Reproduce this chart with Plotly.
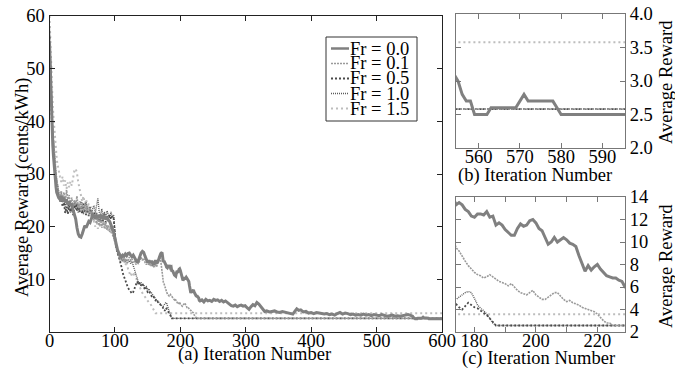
import plotly.graph_objects as go

# ---------------- data (iteration, average reward) ----------------
fr00 = [(0,55),(1,50),(2,45),(3,41),(4,38),(5,35.5),(6,33.5),(7,31.5),(8,30),(9,28.5),(10,27.5),(11,26.5),(12,26),
        (14,25.5),(16,25.2),(18,25.8),(20,24.8),(22,25.5),(24,24.6),(26,25.2),(28,24.2),(30,24.8),(32,24.0),(34,24.4),
        (36,23.2),(38,22.5),(40,21.5),(42,19.8),(44,18.6),(46,18.1),(48,18.0),(50,18.6),(52,19.5),(54,20.2),(56,19.8),
        (58,20.6),(60,21.0),(62,20.8),(64,21.6),(66,22.2),(68,22.0),(70,21.6),(72,22.1),(74,21.8),(76,22.2),(78,21.7),
        (80,22.0),(82,21.6),(84,21.9),(86,21.4),(88,21.8),(90,21.2),(92,21.0),(94,20.4),(96,19.8),(98,19.0),(100,17.8),
        (102,16.5),(104,15.6),(106,15.0),(108,14.6),(110,14.2),(112,14.6),(114,14.4),(116,14.8),(118,14.5),(120,14.9),
        (122,15.0),(124,14.6),(126,14.3),(128,14.6),(130,14.2),(132,13.6),(134,13.2),(136,13.6),(138,14.4),(140,15.0),
        (142,15.3),(144,15.1),(146,14.4),(148,13.8),(150,13.2),(152,13.6),(154,13.1),(156,13.5),(158,12.9),(160,13.0),
        (162,13.6),(164,13.0),(166,13.4),(168,14.2),(170,14.9),(172,15.1),(173,14.0),
        (174,13.3),(175,13.5),(176,13.3),(177,12.9),(178,12.7),(179,12.3),(180,12.2),(181,12.5),(182,12.5),(183,12.4),
        (184,12.7),(185,12.2),(186,12.3),(187,11.5),(188,11.7),(189,11.5),(190,11.1),(191,10.8),(192,10.6),(193,10.6),
        (194,11.2),(195,11.6),(196,11.4),(197,11.5),(198,11.9),(199,12.0),(200,11.7),(201,11.2),(202,11.0),(203,10.4),
        (204,9.8),(205,10.0),(206,10.4),(207,10.0),(208,10.2),(209,10.4),(210,10.2),(211,9.9),(212,9.8),(213,9.6),
        (214,8.8),(215,8.0),(216,7.4),(217,7.9),(218,7.5),(219,7.8),(220,8.0),(221,7.6),(222,7.3),(223,7.0),(224,6.9),
        (225,6.8),(226,6.8),(227,6.6),(228,6.5),(229,6.0),
        (230,5.9),(233,6.1),(236,5.7),(239,6.2),(242,5.9),(245,6.0),(248,5.8),(251,6.2),(254,6.0),(257,6.1),(260,5.8),
        (263,6.0),(266,5.7),(269,5.9),(272,5.5),(275,5.3),(278,5.0),(281,4.9),(284,5.1),(287,4.8),(290,5.0),(293,5.1),
        (296,4.9),(299,5.0),(302,4.6),(305,4.3),(308,4.8),(311,5.2),(314,5.0),(317,5.6),(320,5.3),(323,4.8),(326,4.3),
        (329,3.9),(332,4.0),(336,3.8),(340,3.9),(344,4.0),(348,3.8),(352,3.7),(356,3.9),(360,3.8),(364,3.7),(368,3.5),
        (372,3.4),(375,3.9),(378,4.4),(381,4.1),(384,4.2),(388,3.8),(392,3.9),(396,3.6),(400,3.7),(404,3.5),(408,3.7),
        (412,3.6),(416,3.5),(420,3.4),(424,3.5),(428,3.3),(432,3.4),(436,3.2),(440,3.5),(444,3.7),(448,3.4),(452,3.6),
        (456,3.5),(460,3.3),(464,3.4),(468,3.2),(472,3.3),(476,3.2),(480,3.4),(484,3.2),(488,3.3),(492,3.1),(496,3.3),
        (500,3.2),(504,3.1),(508,3.3),(512,3.1),(516,3.0),(520,3.1),(524,3.2),(528,3.0),(532,3.1),(536,3.0),(540,3.1),
        (544,3.2),(548,3.3),(551,3.2),(553,3.1),(554,3.1),
        (555,3.0),(556,2.8),(557,2.7),(558,2.7),(559,2.5),(562,2.5),(563,2.6),(569,2.6),(570,2.7),(571,2.8),(572,2.7),
        (578,2.7),(579,2.6),(580,2.5),(600,2.5)]

fr01 = [(0,57),(1,52),(2,47),(3,44),(4,41),(5,38.5),(6,36.5),(7,34.5),(8,33),(9,31.5),(10,30),(11,29),(12,28),(13,27),
        (14,26.5),(16,25.5),(18,26.8),(20,25.0),(22,26.5),(24,24.5),(26,27.0),(28,25.2),(30,26.0),(32,24.0),(34,25.5),
        (36,23.8),(38,25.0),(40,24.2),(42,25.8),(44,23.5),(46,24.8),(48,22.8),(50,24.6),(52,23.0),(54,24.2),(56,22.5),
        (58,23.8),(60,22.2),(62,23.6),(64,21.8),(66,22.8),(68,21.2),(70,22.4),(72,20.6),(74,21.8),(76,20.2),(78,21.5),
        (80,19.8),(82,21.0),(84,19.6),(86,20.8),(88,19.4),(90,20.2),(92,19.0),(94,19.8),(96,18.6),(98,18.0),(100,17.2),
        (102,16.0),(104,15.2),(106,14.4),(108,14.0),(110,13.6),(112,14.2),(114,13.4),(116,14.0),(118,13.2),(120,13.8),
        (122,14.2),(124,13.6),(126,13.9),(128,13.2),(130,13.5),(132,12.8),(134,13.4),(136,12.9),(138,13.8),(140,14.2),
        (142,13.6),(144,14.0),(146,13.2),(148,12.8),(150,13.4),(152,12.6),(154,13.0),(156,12.4),(158,12.8),(160,12.2),
        (162,12.9),(164,12.4),(166,13.6),(168,14.4),(170,13.6),(171,12.4),(172,11.4),(173,10.4),
        (174,9.5),(175,9.2),(176,8.7),(177,8.3),(178,7.9),(179,7.6),(180,7.3),(181,7.1),(182,7.0),(183,6.8),(184,6.9),
        (185,7.1),(186,6.9),(187,6.7),(188,6.5),(189,6.4),(190,6.3),(191,6.1),(192,6.3),(193,6.0),(194,5.7),(195,5.5),
        (196,5.4),(197,5.3),(198,5.5),(199,5.7),(200,5.3),(201,5.1),(202,4.9),(203,4.9),(204,5.1),(205,5.3),(206,5.5),
        (207,5.5),(208,5.2),(209,4.9),(210,4.7),(211,4.8),(212,4.6),(213,4.5),(214,4.4),(215,4.2),(216,4.1),(217,4.0),
        (218,3.9),(219,3.8),(220,3.6),(221,3.3),(222,3.0),(223,2.8),(224,2.8),(225,2.58),(600,2.58)]

fr05 = [(0,56),(1,50),(2,46),(3,42),(4,39),(5,36.5),(6,34.5),(7,33),(8,31.5),(9,30),(10,29),(11,28),(12,27),
        (14,25.8),(16,24.8),(18,25.6),(20,23.8),(22,24.6),(24,22.6),(26,23.8),(28,22.4),(30,24.0),(32,22.8),(34,23.8),
        (36,22.2),(38,23.4),(40,24.6),(42,23.0),(44,24.2),(46,22.8),(48,23.6),(50,22.4),(52,24.4),(54,23.0),(56,22.2),
        (58,23.6),(60,22.0),(62,23.2),(64,22.6),(66,21.6),(68,22.8),(70,21.4),(72,22.6),(74,21.2),(76,22.4),(78,20.8),
        (80,22.2),(82,21.0),(84,22.4),(86,20.8),(88,22.0),(90,21.2),(92,22.2),(94,21.4),(96,22.0),(98,21.6),(99,20.0),
        (100,18.0),(101,16.6),(102,15.8),(104,15.2),(106,14.4),(108,13.6),(110,12.4),(112,11.2),(114,10.4),(116,9.8),
        (118,9.0),(120,8.4),(122,8.0),(124,7.6),(126,7.3),(128,7.6),(130,8.4),(132,9.2),(134,9.6),(136,9.0),(138,9.4),
        (140,8.8),(142,9.2),(144,8.6),(146,8.0),(148,8.4),(150,7.6),(152,7.8),(154,7.2),(156,6.8),(158,7.0),(160,6.4),
        (162,6.0),(164,6.2),(166,5.6),(168,5.4),(170,5.0),(172,4.8),(173,4.7),
        (174,4.5),(175,4.2),(176,4.0),(177,4.3),(178,4.6),(179,4.4),(180,4.2),(181,4.1),(182,3.9),(183,3.7),(184,3.5),
        (185,3.2),(186,2.9),(187,2.58),(600,2.58)]

fr10 = [(0,58),(1,52),(2,47),(3,43.5),(4,40.5),(5,38),(6,36),(7,34),(8,32.5),(9,31),(10,30),(11,29),(12,28),
        (14,26.6),(16,25.4),(18,26.4),(20,24.6),(22,25.8),(24,23.8),(26,25.2),(28,23.4),(30,24.4),(32,22.6),(34,24.0),
        (36,22.8),(38,24.8),(40,23.2),(42,24.4),(44,22.6),(46,23.8),(48,24.8),(50,23.4),(52,22.4),(54,23.6),(56,24.6),
        (58,23.0),(60,22.6),(62,23.8),(64,22.4),(66,23.4),(68,24.0),(70,22.6),(72,23.8),(74,25.4),(76,22.8),(78,22.2),
        (80,23.4),(82,21.8),(84,22.8),(86,21.6),(88,23.0),(90,22.4),(92,21.6),(94,22.8),(96,21.8),(98,22.2),(99,21.0),
        (100,19.0),(101,17.2),(102,16.0),(104,15.0),(106,14.2),(108,13.8),(110,14.2),(112,13.6),(114,14.0),(116,13.4),
        (118,13.8),(120,13.2),(122,13.6),(124,13.0),(126,13.4),(128,12.6),(130,11.8),(132,10.8),(134,10.0),(136,9.4),
        (138,9.0),(140,9.4),(142,8.8),(144,9.0),(146,8.4),(148,8.6),(150,8.0),(152,8.2),(154,7.6),(156,7.4),(158,7.0),
        (160,6.6),(162,6.4),(164,6.0),(166,5.8),(168,5.4),(170,5.2),(172,5.0),(173,4.9),
        (174,4.9),(175,5.1),(176,5.3),(177,5.5),(178,5.6),(179,5.5),(180,5.0),(181,4.4),(182,4.1),(183,3.9),(184,3.6),
        (185,3.2),(186,2.8),(187,2.58),(600,2.58)]

fr15 = [(0,60),(1,56),(2,52),(3,49),(4,46),(5,43),(6,41),(7,39),(8,37),(9,35.5),(10,34),(11,33),(12,32),
        (14,30.5),(16,29.5),(18,28.5),(20,29.5),(22,27.8),(24,28.8),(26,27.2),(28,28.4),(30,27.5),(32,28.6),(34,27.8),
        (36,29.5),(38,30.6),(40,31.0),(42,30.2),(44,28.4),(46,27.0),(48,25.6),(50,24.8),(52,25.8),(54,24.0),(56,25.2),
        (58,23.6),(60,24.4),(62,22.8),(64,23.8),(66,22.2),(68,21.0),(70,20.0),(72,21.2),(74,19.6),(76,20.8),(78,19.8),
        (80,21.4),(82,20.2),(84,21.0),(86,19.6),(88,20.4),(90,19.2),(92,20.0),(94,18.8),(96,19.4),(98,18.0),(100,17.0),
        (102,15.8),(104,15.0),(106,14.2),(108,13.6),(110,14.4),(112,13.0),(114,13.8),(116,12.6),(118,13.4),(120,12.0),
        (122,11.4),(124,10.6),(126,11.2),(128,10.8),(130,11.4),(132,10.2),(134,9.6),(136,9.0),(138,8.6),(140,8.0),
        (142,7.4),(144,7.0),(146,6.6),(148,6.4),(150,6.0),(152,5.6),(154,5.4),(156,5.0),(158,4.5),(160,4.0),
        (162,3.58),(600,3.58)]

series_names = ["Fr = 0.0", "Fr = 0.1", "Fr = 0.5", "Fr = 1.0", "Fr = 1.5"]
series_data = [fr00, fr01, fr05, fr10, fr15]

main_x_ticks = [0, 100, 200, 300, 400, 500, 600]
main_y_ticks = [10, 20, 30, 40, 50, 60]
b_x_ticks = [560, 570, 580, 590]
b_y_ticks = [2.0, 2.5, 3.0, 3.5, 4.0]
c_x_ticks = [180, 190, 200, 210, 220]
c_x_labels = ["180", "", "200", "", "220"]
c_y_ticks = [2, 4, 6, 8, 10, 12, 14]

# ---------------- styles ----------------
styles = {
    "Fr = 0.0": dict(color="#808080", width=3, dash="solid"),
    "Fr = 0.1": dict(color="#9a9a9a", width=1.6, dash="2px,1px"),
    "Fr = 0.5": dict(color="#4a4a4a", width=1.8, dash="2px,2px"),
    "Fr = 1.0": dict(color="#5a5a5a", width=1.4, dash="1px,1px"),
    "Fr = 1.5": dict(color="#bdbdbd", width=2, dash="2px,3px"),
}

W, H = 675, 368
def px(x):
    return x / W
def py(y):
    return 1 - y / H

FONT = "Liberation Serif"
FS = 18.5
fig = go.Figure()

draw_order = [4, 3, 2, 1, 0]
for axes in [("x", "y"), ("x2", "y2"), ("x3", "y3")]:
    for i in draw_order:
        name = series_names[i]
        pts = series_data[i]
        fig.add_trace(go.Scatter(
            x=[p[0] for p in pts], y=[p[1] for p in pts],
            mode="lines", name=name, showlegend=False,
            line=styles[name], xaxis=axes[0], yaxis=axes[1],
            hoverinfo="skip"))

axis_common = dict(showgrid=False, zeroline=False, ticks="inside", ticklen=5,
                   showline=True, mirror="ticks", automargin=False,
                   tickfont=dict(family=FONT, size=FS, color="black"))
XSO = -8

fig.update_layout(
    width=W, height=H, margin=dict(l=0, r=0, t=0, b=0, autoexpand=False),
    paper_bgcolor="white", plot_bgcolor="white",
    font=dict(family=FONT, size=FS, color="black"),
    showlegend=False,
    xaxis=dict(domain=[px(49.5), px(442)], range=[0, 600], tickvals=main_x_ticks, ticklabelstandoff=XSO,
               linecolor="#222", tickcolor="#222", anchor="y", **axis_common),
    yaxis=dict(domain=[py(332), py(16)], range=[0, 60], tickvals=main_y_ticks,
               linecolor="#222", tickcolor="#222", anchor="x", **axis_common),
    xaxis2=dict(domain=[px(456), px(625)], range=[554.5, 595.5], tickvals=b_x_ticks, ticklabelstandoff=XSO,
                linecolor="#777", tickcolor="#777", anchor="y2", **axis_common),
    yaxis2=dict(domain=[py(148), py(14)], range=[2, 4], tickvals=b_y_ticks, tickformat=".1f",
                side="right", linecolor="#777", tickcolor="#777", anchor="x2", **axis_common),
    xaxis3=dict(domain=[px(456), px(625)], range=[174, 229], tickvals=c_x_ticks, ticktext=c_x_labels,
                ticklabelstandoff=XSO,
                linecolor="#777", tickcolor="#777", anchor="y3", **axis_common),
    yaxis3=dict(domain=[py(332), py(197)], range=[2, 14], tickvals=c_y_ticks,
                side="right", linecolor="#777", tickcolor="#777", anchor="x3", **axis_common),
)

ann = []
def text(t, x, y, angle=0, xanchor="center", size=FS):
    ann.append(dict(text=t, x=px(x), y=py(y), xref="paper", yref="paper", showarrow=False,
                    textangle=angle, xanchor=xanchor, yanchor="middle",
                    font=dict(family=FONT, size=size, color="black")))

text("Average Reward (cents/kWh)", 22, 187, angle=-90)
text("(a) Iteration Number", 254, 354)
text("(b) Iteration Number", 535, 175)
text("(c) Iteration Number", 538, 358)
text("Average Reward", 666, 82, angle=-90)
text("Average Reward", 666, 266, angle=-90)

# legend (box, samples, labels)
shapes = [dict(type="rect", xref="paper", yref="paper", x0=px(326), x1=px(417), y0=py(121), y1=py(37),
               line=dict(color="#333", width=1), fillcolor="white", layer="above")]
leg_y = [48.5, 63.5, 78.5, 93.5, 108.5]
for name, yy in zip(series_names, leg_y):
    st = styles[name]
    shapes.append(dict(type="line", xref="paper", yref="paper", x0=px(331), x1=px(349), y0=py(yy), y1=py(yy),
                       line=dict(color=st["color"], width=min(st["width"], 2.5), dash=st["dash"]), layer="above"))
    text(name, 348, yy, xanchor="left")

fig.update_layout(annotations=ann, shapes=shapes)
fig.write_html("out.html", config={"displayModeBar": False, "staticPlot": True},
               post_script="document.body.style.margin='0';document.body.style.overflow='hidden';")
